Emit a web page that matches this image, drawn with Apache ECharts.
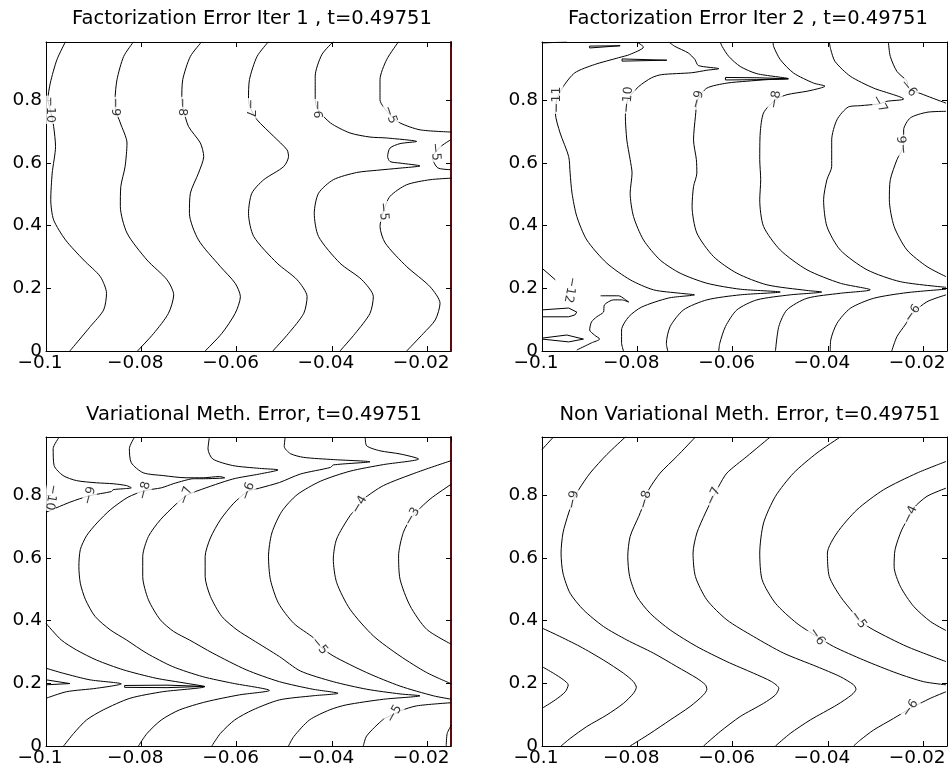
<!DOCTYPE html>
<html><head><meta charset="utf-8">
<script src="https://cdn.jsdelivr.net/npm/echarts@6/dist/echarts.min.js"></script>
<style>html,body{margin:0;padding:0;background:#fff}#c{width:948px;height:780px}</style>
</head><body><div id="c"></div>
<script>
// ---------- axis ranges / ticks ----------
const xRange = [-0.1, -0.015];
const yRange = [0, 0.985];
const xStep = 0.02, yStep = 0.2;
const titles = [
  'Factorization Error Iter 1 , t=0.49751',
  'Factorization Error Iter 2 , t=0.49751',
  'Variational Meth. Error, t=0.49751',
  'Non Variational Meth. Error, t=0.49751'
];

// ---------- Panel 1 : Factorization Error Iter 1 ----------
const p1_c10 = [[-0.0959,0.986],[-0.0977,0.929],[-0.0991,0.854],[-0.0996,0.801],[-0.0991,0.769],[-0.0984,0.716],[-0.098,0.652],[-0.0987,0.567],[-0.099,0.482],[-0.0984,0.418],[-0.0959,0.354],[-0.0921,0.29],[-0.0886,0.237],[-0.0873,0.184],[-0.0879,0.131],[-0.0907,0.078],[-0.095,0]];
const p1_c9 = [[-0.0816,0.986],[-0.0837,0.939],[-0.0851,0.865],[-0.0855,0.801],[-0.0855,0.778],[-0.0844,0.727],[-0.083,0.663],[-0.0834,0.588],[-0.0843,0.524],[-0.0844,0.461],[-0.083,0.376],[-0.0788,0.29],[-0.0746,0.227],[-0.0732,0.179],[-0.0743,0.12],[-0.0774,0.056],[-0.0808,0]];
const p1_c8 = [[-0.0673,0.986],[-0.0697,0.939],[-0.0713,0.865],[-0.0715,0.801],[-0.0713,0.778],[-0.0701,0.716],[-0.0676,0.663],[-0.0669,0.62],[-0.068,0.567],[-0.0697,0.503],[-0.0699,0.439],[-0.068,0.354],[-0.0634,0.269],[-0.0603,0.216],[-0.0592,0.173],[-0.0603,0.12],[-0.0631,0.056],[-0.0666,0]];
const p1_c7 = [[-0.0533,0.986],[-0.0557,0.939],[-0.0573,0.865],[-0.0575,0.801],[-0.0571,0.774],[-0.0557,0.737],[-0.0522,0.684],[-0.0494,0.641],[-0.0491,0.62],[-0.0501,0.588],[-0.0543,0.546],[-0.0568,0.503],[-0.0575,0.439],[-0.0564,0.365],[-0.0515,0.28],[-0.0473,0.227],[-0.0452,0.173],[-0.0459,0.12],[-0.0491,0.056],[-0.0524,0]];
const p1_c6 = [[-0.0397,0.986],[-0.0421,0.945],[-0.0435,0.876],[-0.0435,0.801],[-0.043,0.771],[-0.0403,0.727],[-0.0362,0.695],[-0.032,0.682],[-0.0285,0.679],[-0.0222,0.668],[-0.0257,0.661],[-0.0278,0.647],[-0.0283,0.62],[-0.0278,0.604],[-0.0257,0.599],[-0.0215,0.59],[-0.0257,0.583],[-0.0306,0.576],[-0.0348,0.569],[-0.0397,0.546],[-0.0428,0.503],[-0.0437,0.439],[-0.0428,0.365],[-0.0383,0.28],[-0.0337,0.227],[-0.0313,0.173],[-0.032,0.12],[-0.0351,0.056],[-0.0383,0]];
const p1_c5a = [[-0.026,0.986],[-0.0285,0.929],[-0.0299,0.865],[-0.0299,0.801],[-0.0278,0.753],[-0.0257,0.727],[-0.0215,0.705],[-0.0149,0.698]];
const p1_c5b = [[-0.0149,0.551],[-0.0194,0.546],[-0.0243,0.53],[-0.0278,0.493],[-0.0292,0.445],[-0.0299,0.397],[-0.0288,0.344],[-0.0243,0.269],[-0.0194,0.205],[-0.0173,0.152],[-0.0183,0.099],[-0.0208,0.056],[-0.0243,0]];
const p1_c5c = [[-0.0151,0.673],[-0.0172,0.651],[-0.0189,0.616],[-0.0178,0.584],[-0.0151,0.578]];
const p1_labels = [[-0.0991,0.769,'-10'],[-0.0855,0.778,'-9'],[-0.0713,0.778,'-8'],[-0.0571,0.774,'-7'],[-0.043,0.771,'-6'],[-0.0278,0.753,'-5'],[-0.0292,0.445,'-5'],[-0.0183,0.635,'-5']];

// ---------- Panel 2 : Factorization Error Iter 2 ----------
const p2_top = [[-0.1,0.982],[-0.0948,0.985]];
const p2_s1 = [[-0.09,0.972],[-0.0836,0.973],[-0.0833,0.969],[-0.09,0.966],[-0.09,0.972]];
const p2_s2 = [[-0.0832,0.931],[-0.0738,0.927],[-0.0734,0.922],[-0.0832,0.924],[-0.0832,0.931]];
const p2_c11 = [[-0.0801,0.985],[-0.0787,0.969],[-0.0816,0.945],[-0.0839,0.935],[-0.089,0.913],[-0.0931,0.887],[-0.0955,0.844],[-0.0969,0.801],[-0.0972,0.759],[-0.0962,0.695],[-0.0944,0.62],[-0.0941,0.567],[-0.0937,0.503],[-0.0927,0.429],[-0.0906,0.354],[-0.0864,0.28],[-0.0815,0.227],[-0.0766,0.195],[-0.071,0.184],[-0.068,0.179],[-0.0734,0.169],[-0.0791,0.14],[-0.0818,0.109],[-0.0833,0.067],[-0.0833,0.026],[-0.0829,0]];
const p2_c10 = [[-0.0734,0.985],[-0.0721,0.971],[-0.0693,0.95],[-0.0679,0.929],[-0.0672,0.91],[-0.0629,0.9],[-0.0654,0.895],[-0.0686,0.887],[-0.0749,0.881],[-0.077,0.871],[-0.0797,0.843],[-0.082,0.801],[-0.0825,0.748],[-0.0822,0.673],[-0.0815,0.61],[-0.0811,0.567],[-0.0815,0.503],[-0.0808,0.429],[-0.0787,0.354],[-0.0752,0.29],[-0.071,0.248],[-0.0654,0.216],[-0.0584,0.197],[-0.05,0.188],[-0.0584,0.179],[-0.0654,0.163],[-0.0703,0.131],[-0.0731,0.078],[-0.0739,0.024],[-0.0736,0]];
const p2_c9 = [[-0.0626,0.985],[-0.0622,0.971],[-0.0608,0.939],[-0.0584,0.907],[-0.0549,0.884],[-0.0483,0.868],[-0.0528,0.865],[-0.057,0.86],[-0.0612,0.854],[-0.0654,0.838],[-0.0673,0.801],[-0.0678,0.748],[-0.0682,0.673],[-0.0676,0.61],[-0.0675,0.567],[-0.0682,0.524],[-0.0685,0.461],[-0.0675,0.376],[-0.064,0.301],[-0.0591,0.248],[-0.0528,0.211],[-0.0444,0.193],[-0.0413,0.188],[-0.0479,0.179],[-0.0549,0.163],[-0.0591,0.131],[-0.0615,0.078],[-0.0627,0.024],[-0.0629,0]];
const p2_s3 = [[-0.0615,0.872],[-0.0549,0.871],[-0.0483,0.868],[-0.0549,0.865],[-0.0615,0.864],[-0.0615,0.872]];
const p2_c8 = [[-0.0515,0.985],[-0.0514,0.971],[-0.05,0.929],[-0.0472,0.886],[-0.043,0.854],[-0.0406,0.844],[-0.0416,0.838],[-0.0444,0.828],[-0.0486,0.817],[-0.051,0.801],[-0.0535,0.759],[-0.0542,0.695],[-0.0543,0.61],[-0.0541,0.546],[-0.0543,0.482],[-0.0535,0.397],[-0.05,0.322],[-0.0444,0.259],[-0.0374,0.216],[-0.0311,0.195],[-0.0374,0.184],[-0.0444,0.168],[-0.0486,0.131],[-0.0503,0.078],[-0.051,0]];
const p2_c7 = [[-0.0397,0.985],[-0.0394,0.961],[-0.0385,0.923],[-0.0353,0.876],[-0.0304,0.838],[-0.0241,0.803],[-0.0276,0.796],[-0.0292,0.788],[-0.0332,0.782],[-0.0357,0.778],[-0.0381,0.737],[-0.0392,0.673],[-0.0392,0.588],[-0.0402,0.546],[-0.0409,0.482],[-0.0402,0.397],[-0.0374,0.322],[-0.0318,0.259],[-0.0248,0.221],[-0.0152,0.203]];
const p2_c7b = [[-0.0152,0.197],[-0.0234,0.186],[-0.0304,0.168],[-0.0353,0.136],[-0.0381,0.088],[-0.0394,0.035],[-0.0395,0]];
const p2_c6a = [[-0.0273,0.985],[-0.0269,0.939],[-0.0255,0.891],[-0.0234,0.86],[-0.0231,0.838],[-0.0199,0.817],[-0.0152,0.79]];
const p2_c6b = [[-0.0152,0.764],[-0.0192,0.761],[-0.0227,0.743],[-0.0241,0.705],[-0.0241,0.657],[-0.0255,0.61],[-0.0269,0.546],[-0.0271,0.482],[-0.0261,0.397],[-0.0234,0.322],[-0.0192,0.269],[-0.0152,0.237]];
const p2_c6c = [[-0.0266,0],[-0.0255,0.046],[-0.0238,0.083],[-0.0222,0.12],[-0.0192,0.157],[-0.0152,0.179]];
const p2_e1 = [[-0.1,0.264],[-0.0972,0.227]];
const p2_e2 = [[-0.1,0.131],[-0.0944,0.137],[-0.0927,0.124],[-0.0931,0.115],[-0.0944,0.109],[-0.1,0.109]];
const p2_e3 = [[-0.1,0.041],[-0.0948,0.051],[-0.0913,0.038],[-0.0944,0.029],[-0.1,0.038]];
const p2_e4 = [[-0.0877,0.176],[-0.0839,0.176],[-0.0827,0.166],[-0.0818,0.156],[-0.0833,0.163],[-0.085,0.163],[-0.0869,0.147],[-0.0871,0.124],[-0.0885,0.109],[-0.0896,0.093],[-0.09,0.067],[-0.089,0.051],[-0.0879,0.038],[-0.0896,0.026],[-0.0927,0.003]];
const p2_labels = [[-0.0969,0.801,'-11'],[-0.082,0.801,'-10'],[-0.0673,0.801,'-9'],[-0.051,0.801,'-8'],[-0.0292,0.788,'-7'],[-0.0231,0.838,'-6'],[-0.0241,0.657,'-6'],[-0.0222,0.12,'-6'],[-0.0941,0.195,'-12']];

// ---------- Panel 3 : Variational Meth. Error ----------
const p3_c9 = [[-0.0972,0.985],[-0.0985,0.948],[-0.0983,0.894],[-0.0964,0.862],[-0.0936,0.846],[-0.0894,0.839],[-0.0859,0.836],[-0.0831,0.83],[-0.0821,0.823],[-0.0838,0.82],[-0.0859,0.817],[-0.0863,0.811],[-0.0908,0.798],[-0.095,0.777],[-0.1,0.745]];
const p3_c8 = [[-0.0814,0.985],[-0.0825,0.948],[-0.0821,0.903],[-0.0796,0.871],[-0.0754,0.862],[-0.0706,0.855],[-0.067,0.855],[-0.0636,0.859],[-0.0625,0.855],[-0.067,0.852],[-0.0691,0.852],[-0.071,0.846],[-0.0733,0.836],[-0.0758,0.823],[-0.0793,0.814],[-0.0828,0.793],[-0.0865,0.753],[-0.0893,0.711],[-0.0915,0.67],[-0.0928,0.626],[-0.0931,0.572],[-0.0928,0.519],[-0.0917,0.466],[-0.0897,0.413],[-0.0865,0.37],[-0.0831,0.338],[-0.0789,0.296],[-0.0734,0.253],[-0.0671,0.221],[-0.0608,0.2],[-0.0531,0.177],[-0.0594,0.163],[-0.0664,0.141],[-0.072,0.115],[-0.0758,0.083],[-0.0788,0.04],[-0.0806,0]];
const p3_c7 = [[-0.0657,0.985],[-0.066,0.947],[-0.065,0.915],[-0.0608,0.894],[-0.0552,0.885],[-0.0513,0.88],[-0.0552,0.867],[-0.0608,0.851],[-0.0681,0.814],[-0.0706,0.798],[-0.0727,0.771],[-0.076,0.721],[-0.0785,0.668],[-0.0797,0.604],[-0.0797,0.54],[-0.0785,0.466],[-0.076,0.402],[-0.0732,0.365],[-0.0699,0.338],[-0.065,0.296],[-0.058,0.243],[-0.051,0.205],[-0.044,0.181],[-0.0387,0.168],[-0.044,0.16],[-0.051,0.147],[-0.0566,0.115],[-0.0604,0.083],[-0.0634,0.04],[-0.0652,0]];
const p3_c6 = [[-0.0498,0.985],[-0.05,0.955],[-0.0487,0.932],[-0.0459,0.92],[-0.0397,0.913],[-0.032,0.906],[-0.0397,0.896],[-0.0403,0.888],[-0.0466,0.867],[-0.051,0.84],[-0.0552,0.822],[-0.0576,0.812],[-0.0606,0.774],[-0.0634,0.721],[-0.0655,0.663],[-0.0666,0.604],[-0.0666,0.54],[-0.0655,0.477],[-0.0631,0.413],[-0.0599,0.37],[-0.0566,0.338],[-0.051,0.285],[-0.0466,0.239],[-0.0397,0.205],[-0.0327,0.181],[-0.0257,0.166],[-0.0215,0.16],[-0.0292,0.149],[-0.037,0.131],[-0.0405,0.115],[-0.0447,0.083],[-0.048,0.03],[-0.0491,0]];
const p3_c5 = [[-0.033,0.985],[-0.0327,0.957],[-0.0299,0.941],[-0.0257,0.931],[-0.0218,0.915],[-0.0292,0.897],[-0.0362,0.876],[-0.0424,0.844],[-0.0473,0.801],[-0.0505,0.748],[-0.0526,0.679],[-0.0533,0.604],[-0.0529,0.53],[-0.0512,0.455],[-0.048,0.391],[-0.0438,0.344],[-0.0426,0.319],[-0.0397,0.287],[-0.0327,0.234],[-0.0257,0.191],[-0.0187,0.16],[-0.0149,0.149]];
const p3_c4 = [[-0.0149,0.91],[-0.0222,0.872],[-0.0292,0.83],[-0.0334,0.787],[-0.0342,0.769],[-0.0362,0.734],[-0.039,0.66],[-0.0397,0.596],[-0.039,0.521],[-0.0362,0.436],[-0.0313,0.351],[-0.0257,0.287],[-0.0201,0.234],[-0.0149,0.198]];
const p3_c3 = [[-0.0149,0.835],[-0.0194,0.787],[-0.0231,0.732],[-0.025,0.681],[-0.026,0.606],[-0.0257,0.532],[-0.0236,0.447],[-0.0201,0.372],[-0.0149,0.324]];
const p3_c5b = [[-0.0149,0.138],[-0.0222,0.128],[-0.0257,0.112],[-0.0269,0.102],[-0.0292,0.085],[-0.0327,0.032],[-0.0334,0]];
const p3_c4b = [[-0.0149,0.067],[-0.0158,0.04],[-0.016,0]];
const p3_cC = [[-0.1,0.391],[-0.0968,0.338],[-0.0936,0.306],[-0.0894,0.274],[-0.0838,0.243],[-0.0769,0.216],[-0.0706,0.2],[-0.0667,0.189],[-0.0755,0.173],[-0.0824,0.152],[-0.088,0.115],[-0.0915,0.083],[-0.0942,0.04],[-0.0963,0]];
const p3_sl = [[-0.0835,0.193],[-0.0746,0.194],[-0.0667,0.19],[-0.0746,0.186],[-0.0835,0.187],[-0.0835,0.193]];
const p3_cB = [[-0.1,0.248],[-0.0964,0.232],[-0.0908,0.211],[-0.0842,0.198],[-0.0894,0.184],[-0.0957,0.173],[-0.1,0.152]];
const p3_cA = [[-0.1,0.211],[-0.095,0.199],[-0.1,0.195]];
const p3_labels = [[-0.0989,0.793,'-10'],[-0.0908,0.798,'-9'],[-0.0793,0.814,'-8'],[-0.0706,0.798,'-7'],[-0.0576,0.812,'-6'],[-0.0342,0.769,'-4'],[-0.0231,0.732,'-3'],[-0.0426,0.319,'-5'],[-0.0269,0.102,'-5']];

// ---------- Panel 4 : Non Variational Meth. Error ----------
const p4_corner = [[-0.1,0.945],[-0.0976,0.985]];
const p4_lt = [[-0.1,0.253],[-0.0976,0.232],[-0.0955,0.211],[-0.0945,0.195],[-0.0951,0.173],[-0.0972,0.147],[-0.1,0.12]];
const p4_c10 = [[-0.1,0.376],[-0.0969,0.354],[-0.092,0.317],[-0.0871,0.274],[-0.0829,0.232],[-0.0808,0.205],[-0.0802,0.187],[-0.0808,0.168],[-0.0829,0.136],[-0.0864,0.099],[-0.0906,0.062],[-0.0941,0.024],[-0.096,0]];
const p4_c9 = [[-0.0825,0.985],[-0.0864,0.929],[-0.0899,0.87],[-0.0923,0.817],[-0.0934,0.785],[-0.0944,0.743],[-0.0956,0.679],[-0.096,0.615],[-0.0956,0.551],[-0.0941,0.487],[-0.0913,0.434],[-0.0871,0.381],[-0.0822,0.338],[-0.0766,0.296],[-0.0717,0.253],[-0.0675,0.216],[-0.0657,0.195],[-0.0654,0.181],[-0.0661,0.163],[-0.0689,0.126],[-0.0731,0.083],[-0.0773,0.04],[-0.0815,0]];
const p4_c8 = [[-0.0678,0.985],[-0.0717,0.923],[-0.0752,0.87],[-0.0776,0.817],[-0.0783,0.785],[-0.0797,0.732],[-0.0815,0.668],[-0.082,0.604],[-0.0816,0.54],[-0.0801,0.477],[-0.0773,0.423],[-0.0731,0.37],[-0.0675,0.317],[-0.0612,0.269],[-0.0556,0.232],[-0.0518,0.205],[-0.0503,0.184],[-0.051,0.163],[-0.0535,0.136],[-0.0584,0.094],[-0.0626,0.046],[-0.0661,0]];
const p4_c7 = [[-0.0521,0.985],[-0.057,0.923],[-0.0612,0.87],[-0.0629,0.828],[-0.064,0.796],[-0.0657,0.743],[-0.0675,0.679],[-0.0683,0.615],[-0.0678,0.54],[-0.0654,0.466],[-0.0612,0.402],[-0.0556,0.349],[-0.0493,0.296],[-0.0423,0.253],[-0.0374,0.221],[-0.0346,0.195],[-0.0341,0.181],[-0.035,0.163],[-0.0381,0.131],[-0.0437,0.083],[-0.0479,0.04],[-0.051,0]];
const p4_c6 = [[-0.0374,0.985],[-0.0423,0.934],[-0.0472,0.87],[-0.051,0.796],[-0.0535,0.711],[-0.0543,0.615],[-0.0538,0.53],[-0.051,0.455],[-0.0465,0.391],[-0.0423,0.349],[-0.0388,0.317],[-0.0325,0.274],[-0.0255,0.232],[-0.0199,0.205],[-0.0152,0.195]];
const p4_c6b = [[-0.0152,0.173],[-0.0185,0.152],[-0.0206,0.136],[-0.0227,0.12],[-0.0262,0.088],[-0.0304,0.051],[-0.0332,0.019],[-0.0346,0]];
const p4_c5 = [[-0.0152,0.907],[-0.0213,0.87],[-0.0283,0.817],[-0.0339,0.753],[-0.0381,0.679],[-0.0401,0.615],[-0.0397,0.54],[-0.0374,0.477],[-0.0346,0.423],[-0.0336,0.402],[-0.0304,0.37],[-0.0234,0.317],[-0.0152,0.269]];
const p4_c4 = [[-0.0152,0.822],[-0.0192,0.796],[-0.022,0.759],[-0.0227,0.737],[-0.0245,0.689],[-0.0259,0.626],[-0.0261,0.572],[-0.0248,0.509],[-0.022,0.445],[-0.0185,0.397],[-0.0152,0.368]];
const p4_labels = [[-0.0934,0.785,'-9'],[-0.0783,0.785,'-8'],[-0.064,0.796,'-7'],[-0.0423,0.349,'-6'],[-0.0336,0.402,'-5'],[-0.0227,0.737,'-4'],[-0.0227,0.12,'-6']];

// ---------- assembly (styles kept here) ----------
const panels = [
  {smooth:[p1_c10,p1_c9,p1_c8,p1_c7,p1_c6,p1_c5a,p1_c5b,p1_c5c], sharp:[], labels:p1_labels,
   rot:[-90,-90,-90,-90,-90,-70,-85,-85]},
  {smooth:[p2_c11,p2_c10,p2_c9,p2_c8,p2_c7,p2_c7b,p2_c6a,p2_c6b,p2_c6c,p2_e4], sharp:[p2_top,p2_s1,p2_s2,p2_s3,p2_e1,p2_e2,p2_e3], labels:p2_labels,
   rot:[90,85,75,80,-60,-50,95,55,-100]},
  {smooth:[p3_c9,p3_c8,p3_c7,p3_c6,p3_c5,p3_c4,p3_c3,p3_c5b,p3_c4b,p3_cC,p3_cB], sharp:[p3_sl,p3_cA], labels:p3_labels,
   rot:[-100,75,75,70,70,60,60,-50,60]},
  {smooth:[p4_corner,p4_lt,p4_c10,p4_c9,p4_c8,p4_c7,p4_c6,p4_c6b,p4_c5,p4_c4], sharp:[], labels:p4_labels,
   rot:[80,75,65,-55,-55,65,55]}
];
const grids = [
  {left:46, top:42, width:405, height:309},
  {left:542, top:42, width:405, height:309},
  {left:46, top:437, width:405, height:309},
  {left:542, top:437, width:405, height:309}
];
const titlePos = [[247,4],[743,4],[249,400],[745,400]];
const FONT = 'DejaVu Sans';
const fmt = v => { const r = Math.round(v*10000)/10000; return (r === 0 ? '0' : String(r)).replace('-', '\u2212'); };
const tick = {inside:true, length:5, lineStyle:{color:'#000', width:1}};

const xAxis = [], yAxis = [], series = [], title = [];
grids.forEach((g, i) => {
  xAxis.push({type:'value', gridIndex:i, min:xRange[0], max:xRange[1], interval:xStep, position:'bottom',
    axisLine:{onZero:false, lineStyle:{color:'#000', width:1}}, axisTick:tick, splitLine:{show:false},
    axisLabel:{showMaxLabel:false, color:'#000', fontSize:18.5, fontFamily:FONT, margin:3, padding:[0,12,0,0], formatter:fmt}});
  yAxis.push({type:'value', gridIndex:i, min:yRange[0], max:yRange[1], interval:yStep, position:'left',
    axisLine:{onZero:false, lineStyle:{color:'#000', width:1}}, axisTick:tick, splitLine:{show:false},
    axisLabel:{showMaxLabel:false, color:'#000', fontSize:18.5, fontFamily:FONT, margin:4, formatter:fmt}});
  title.push({text:titles[i], left:titlePos[i][0], top:titlePos[i][1], textAlign:'center',
    textStyle:{fontSize:19.5, fontWeight:'normal', color:'#000', fontFamily:FONT}});
});
grids.forEach((g, i) => {
  const edge = (i % 2 === 0) ? '#5a0c0c' : '#000';
  xAxis.push({type:'value', gridIndex:i, min:xRange[0], max:xRange[1], interval:xStep, position:'top',
    axisLine:{onZero:false, lineStyle:{color:'#000', width:1}}, axisTick:tick, splitLine:{show:false}, axisLabel:{show:false}});
  yAxis.push({type:'value', gridIndex:i, min:yRange[0], max:yRange[1], interval:yStep, position:'right',
    axisLine:{onZero:false, lineStyle:{color:edge, width:(i % 2 === 0) ? 2 : 1}}, axisTick:tick, splitLine:{show:false}, axisLabel:{show:false}});
});

panels.forEach((p, i) => {
  const mk = (data, sm) => ({type:'line', xAxisIndex:i, yAxisIndex:i, data:data, symbol:'none', showSymbol:false,
    smooth:sm, lineStyle:{color:'#000', width:1}, silent:true, animation:false, z:2, clip:true});
  p.smooth.forEach(d => series.push(mk(d, 0.25)));
  p.sharp.forEach(d => series.push(mk(d, false)));
  series.push({type:'scatter', xAxisIndex:i, yAxisIndex:i, symbol:'circle', symbolSize:1,
    itemStyle:{color:'transparent'}, silent:true, animation:false, z:5,
    data:p.labels.map((l, k) => ({value:[l[0], l[1]], label:{show:true, rotate:p.rot[k], formatter:l[2].replace('-', '\u2212')}})),
    label:{show:true, position:'inside', color:'#000', fontSize:12.5, fontFamily:FONT, backgroundColor:'#fff', padding:[0,1]}});
});

const chart = echarts.init(document.getElementById('c'), null, {renderer:'canvas'});
chart.setOption({
  animation:false,
  backgroundColor:'#fff',
  title:title,
  grid:grids.map(g => Object.assign({containLabel:false, outerBoundsMode:'none'}, g)),
  xAxis:xAxis, yAxis:yAxis, series:series
});
</script></body></html>
